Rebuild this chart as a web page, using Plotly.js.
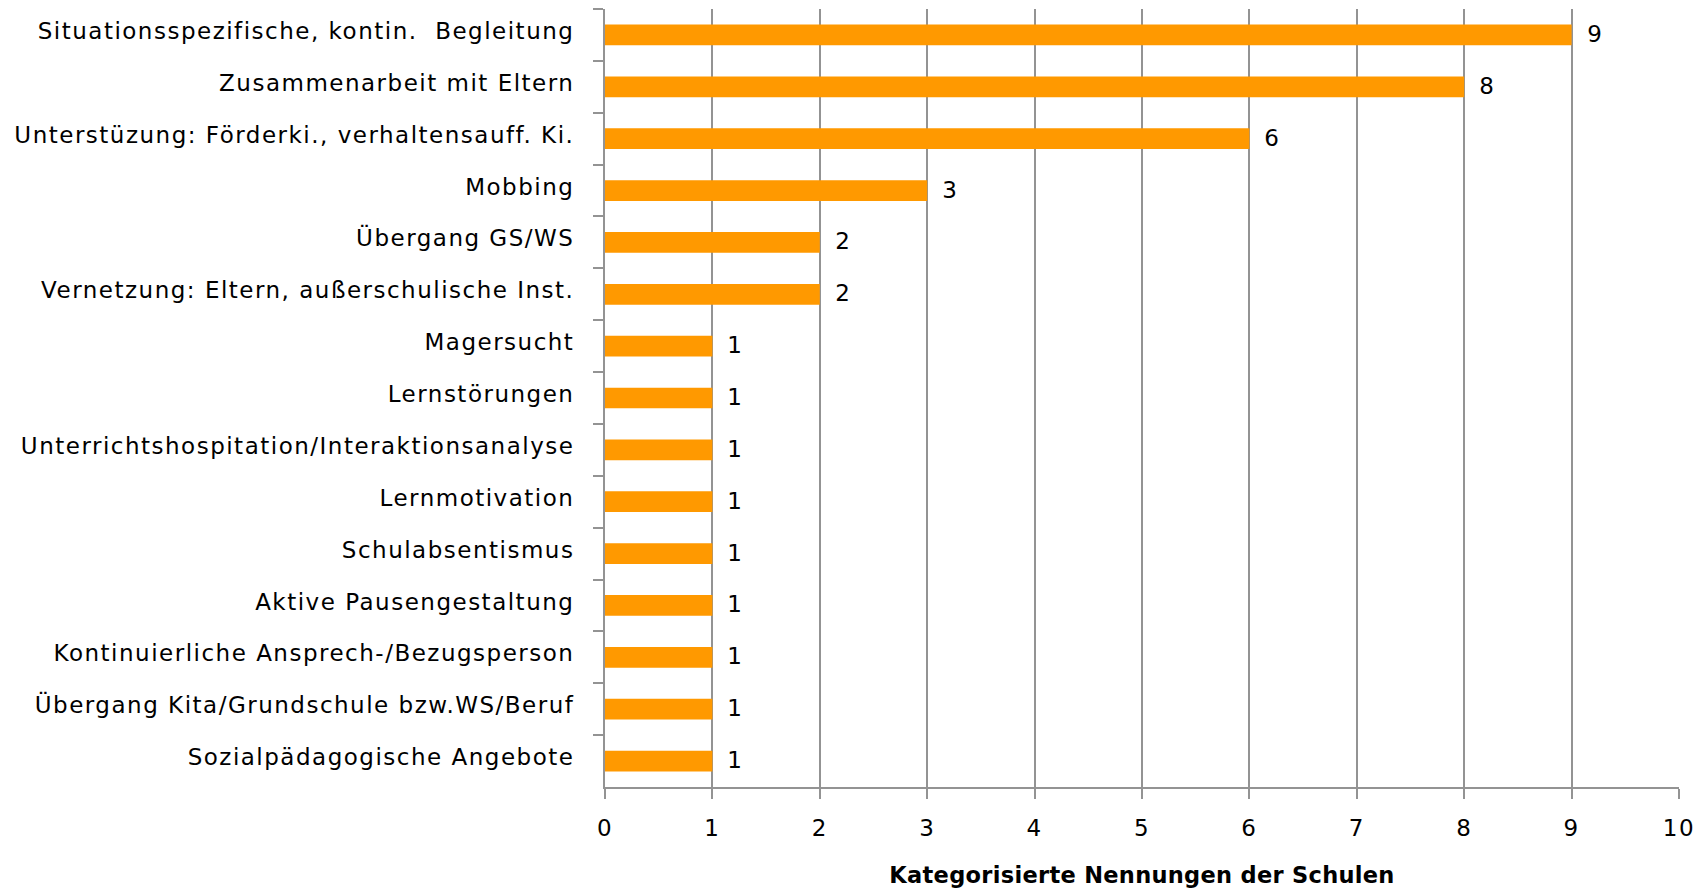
<!DOCTYPE html>
<html>
<head>
<meta charset="utf-8">
<script src="https://cdn.plot.ly/plotly-3.0.1.min.js"></script>
<style>
html,body{margin:0;padding:0;background:#fff;}
#chart{width:1706px;height:891px;}
#chart .ytick text, #chart .xtick text, #chart .annotation-text {letter-spacing: 1.5px;}
#chart g.ytick {transform: translateY(-4px);}
#chart .xtitle {letter-spacing: 0.3px;}
</style>
</head>
<body>
<div id="chart"></div>
<script>
const categories = [
  "Situationsspezifische, kontin.  Begleitung",
  "Zusammenarbeit mit Eltern",
  "Unterstüzung: Förderki., verhaltensauff. Ki.",
  "Mobbing",
  "Übergang GS/WS",
  "Vernetzung: Eltern, außerschulische Inst.",
  "Magersucht",
  "Lernstörungen",
  "Unterrichtshospitation/Interaktionsanalyse",
  "Lernmotivation",
  "Schulabsentismus",
  "Aktive Pausengestaltung",
  "Kontinuierliche Ansprech-/Bezugsperson",
  "Übergang Kita/Grundschule bzw.WS/Beruf",
  "Sozialpädagogische Angebote"
];
const counts = [9, 8, 6, 3, 2, 2, 1, 1, 1, 1, 1, 1, 1, 1, 1];
const xTicks = [0,1,2,3,4,5,6,7,8,9,10];
const xTitle = "Kategorisierte Nennungen der Schulen";

const FONT = "DejaVu Sans, Verdana, sans-serif";
const GRID = "#939393";

const trace = {
  type: "bar",
  orientation: "h",
  x: counts,
  y: categories,
  marker: {color: "#ff9900", line: {width: 0}},
  width: 0.4,
  hoverinfo: "x+y"
};

const annotations = categories.map((c, i) => ({
  x: counts[i], y: c, xref: "x", yref: "y",
  text: String(counts[i]),
  showarrow: false, xanchor: "left", yanchor: "middle",
  xshift: 14, yshift: 1,
  font: {family: FONT, size: 23, color: "#000"}
}));

const layout = {
  width: 1706, height: 891,
  margin: {l: 605, r: 27, t: 9, b: 104},
  paper_bgcolor: "#fff", plot_bgcolor: "#fff",
  showlegend: false,
  font: {family: FONT, size: 23, color: "#000"},
  xaxis: {
    range: [0, 10], tickvals: xTicks, ticktext: xTicks.map(String),
    showgrid: true, gridcolor: GRID, gridwidth: 2,
    showline: true, linecolor: GRID, linewidth: 2,
    ticks: "outside", ticklen: 10, tickcolor: GRID, tickwidth: 2,
    ticklabelstandoff: 9,
    zeroline: false, fixedrange: true,
    tickfont: {family: FONT, size: 23, color: "#000"},
    title: {text: xTitle, standoff: 28, font: {family: FONT, size: 22.5, color: "#000", weight: "bold"}}
  },
  yaxis: {
    type: "category", autorange: "reversed",
    showline: true, linecolor: GRID, linewidth: 2,
    ticks: "outside", ticklen: 10, tickcolor: GRID, tickwidth: 2,
    tickson: "boundaries",
    ticklabelstandoff: 24,
    showgrid: false, zeroline: false, fixedrange: true,
    tickfont: {family: FONT, size: 23, color: "#000"}
  },
  annotations: annotations
};

Plotly.newPlot("chart", [trace], layout, {displayModeBar: false, staticPlot: true});
</script>
</body>
</html>
